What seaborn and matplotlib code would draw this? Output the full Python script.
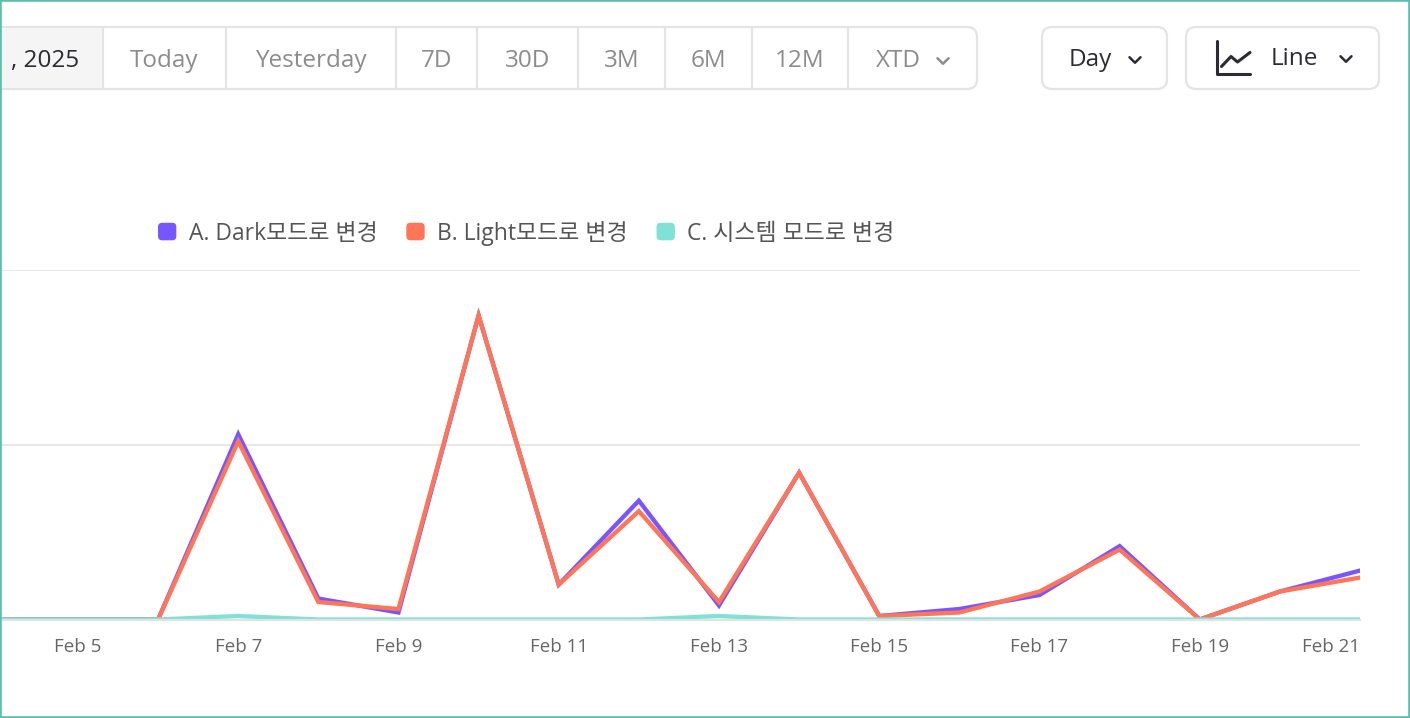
import numpy as np
import pandas as pd
import matplotlib
matplotlib.use('Agg')
import matplotlib.pyplot as plt
import matplotlib.dates as mdates
from matplotlib.patches import FancyBboxPatch, Rectangle, Patch
from matplotlib.legend_handler import HandlerPatch
import seaborn as sns

# ---------------------------------------------------------------
# Data (daily counts, Feb 4 - Feb 21)
# ---------------------------------------------------------------
DATES = pd.date_range('2025-02-04', '2025-02-21', freq='D')
SERIES = ['A. Dark모드로 변경', 'B. Light모드로 변경', 'C. 시스템 모드로 변경']
DARK = [0, 0, 0, 53, 6, 2, 87, 10, 34, 4, 42, 1, 3, 7, 21, 0, 8, 14]
LIGHT = [0, 0, 0, 51, 5, 3, 87, 10, 31, 5, 42, 1, 2, 8, 20, 0, 8, 12]
SYSTEM = [0, 0, 0, 1, 0, 0, 0, 0, 0, 1, 0, 0, 0, 0, 0, 0, 0, 0]
COLORS = ['#7856ff', '#ff7557', '#80e1d9']
TICK_DATES = pd.date_range('2025-02-05', '2025-02-21', freq='2D')
TICK_LABELS = [f"Feb {d.day}" for d in TICK_DATES]
Y_GRID = [0, 50, 100]

# toolbar
RANGE_LABELS = [', 2025', 'Today', 'Yesterday', '7D', '30D', '3M', '6M', '12M', 'XTD']
RANGE_EDGES = [-40, 103, 226, 396, 477, 578, 665, 752, 848, 977]

W, H = 1410, 718
FONT = ['Open Sans', 'Noto Sans CJK KR', 'DejaVu Sans']

df = pd.DataFrame({
    'date': np.tile(DATES, 3),
    'value': DARK + LIGHT + SYSTEM,
    'series': np.repeat(SERIES, len(DATES)),
})

sns.set_theme(style='white')
plt.rcParams['font.family'] = FONT

fig = plt.figure(figsize=(W / 100, H / 100), dpi=100, facecolor='white')

# overlay in pixel coordinates for the UI chrome
ui = fig.add_axes([0, 0, 1, 1], zorder=-1)
ui.set_xlim(0, W)
ui.set_ylim(H, 0)
ui.axis('off')

line_c = '#e4e4e4'
grey_txt = '#8c8c8c'
dark_txt = '#2b2b33'
ui_size = 17.5
txt_y = 61

# date-range button group
ui.add_patch(FancyBboxPatch((RANGE_EDGES[0], 27), RANGE_EDGES[-1] - RANGE_EDGES[0], 62,
                            boxstyle='round,pad=0,rounding_size=10',
                            fc='white', ec=line_c, lw=1.6))
ui.add_patch(Rectangle((0, 28), RANGE_EDGES[1], 60, fc='#f5f5f5', ec='none'))
for x in RANGE_EDGES[1:-1]:
    ui.plot([x, x], [28, 88], color=line_c, lw=1.6)
for i, lab in enumerate(RANGE_LABELS):
    if i == 0:
        ui.text(79, txt_y, lab, ha='right', va='center', fontsize=ui_size, color=dark_txt)
    else:
        cx = (RANGE_EDGES[i] + RANGE_EDGES[i + 1]) / 2
        if lab == 'XTD':
            cx -= 14
        ui.text(cx, txt_y, lab, ha='center', va='center', fontsize=ui_size, color=grey_txt)


def chevron(x, y, color, size=5.5):
    ui.plot([x - size, x, x + size], [y - size / 2, y + size / 2, y - size / 2],
            color=color, lw=1.8, solid_capstyle='round', solid_joinstyle='round')


chevron(943, 61, grey_txt)

# Day button
ui.add_patch(FancyBboxPatch((1042, 27), 125, 62, boxstyle='round,pad=0,rounding_size=10',
                            fc='white', ec=line_c, lw=1.6))
ui.text(1090, txt_y - 1, 'Day', ha='center', va='center', fontsize=ui_size, color=dark_txt)
chevron(1135, 60, dark_txt)

# Line button
ui.add_patch(FancyBboxPatch((1186, 27), 193, 62, boxstyle='round,pad=0,rounding_size=10',
                            fc='white', ec=line_c, lw=1.6))
ui.plot([1216.5, 1216.5, 1250], [41, 74, 74], color=dark_txt, lw=2.2,
        solid_joinstyle='round', solid_capstyle='round')
ui.plot([1221.5, 1231, 1237.5, 1250], [66.5, 56.5, 62, 52.5], color=dark_txt, lw=2.2,
        solid_joinstyle='round', solid_capstyle='round')
ui.text(1271, txt_y - 2, 'Line', ha='left', va='center', fontsize=ui_size, color=dark_txt)
chevron(1346, 59, dark_txt)

# ---------------------------------------------------------------
# Line chart
# ---------------------------------------------------------------
base_y, top_y, right_x = 619.5, 270, 1360
ax = fig.add_axes([0, (H - base_y) / H, right_x / W, (base_y - top_y) / H])
ax.set_facecolor('none')

sns.lineplot(data=df, x='date', y='value', hue='series', hue_order=SERIES,
             palette=COLORS, linewidth=3.1, ax=ax, legend=False)
for ln in ax.lines:
    ln.set_solid_joinstyle('miter')

x0 = mdates.date2num(DATES[0]) + 0.027
ax.set_xlim(x0, mdates.date2num(DATES[-1]))
ax.set_ylim(Y_GRID[0], Y_GRID[-1])
ax.set_yticks(Y_GRID)
ax.set_yticklabels([])
ax.yaxis.grid(True, color='#e6e6e6', lw=1.3)
ax.set_axisbelow(True)
ax.tick_params(axis='y', length=0)

ax.set_xticks(TICK_DATES)
ax.set_xticklabels(TICK_LABELS)
ax.tick_params(axis='x', length=7.5, width=1.3, color='#e2e2e2', pad=6,
               labelsize=13.5, labelcolor='#666666')
ax.get_xticklabels()[-1].set_ha('right')
ax.set_xlabel('')
ax.set_ylabel('')
for side in ['top', 'left', 'right']:
    ax.spines[side].set_visible(False)
ax.spines['bottom'].set_color('#e2e2e2')
ax.spines['bottom'].set_linewidth(1.5)


# legend with rounded square swatches
class RoundSwatch(HandlerPatch):
    def create_artists(self, legend, orig_handle, xdescent, ydescent, width, height,
                       fontsize, trans):
        p = FancyBboxPatch((-xdescent, -ydescent), width, height,
                           boxstyle='round,pad=0,rounding_size=3',
                           fc=orig_handle.get_facecolor(), ec='none', transform=trans)
        return [p]


handles = [Patch(facecolor=c, label=s) for c, s in zip(COLORS, SERIES)]
leg = fig.legend(handles=handles, loc='center left', ncol=3,
                 bbox_to_anchor=(158 / W, 1 - 233 / H), frameon=False,
                 borderpad=0, borderaxespad=0, handlelength=0.8, handleheight=0.8,
                 handletextpad=0.55, columnspacing=1.25,
                 prop={'size': 16.5, 'family': FONT, 'weight': 'medium'},
                 handler_map={Patch: RoundSwatch()})
for t in leg.get_texts():
    t.set_color('#555555')

# teal frame of the screenshot
fig.add_artist(Rectangle((0, 0), 1, 1, transform=fig.transFigure, fill=False,
                         ec='#5bbfae', lw=2.6, zorder=20))

fig.savefig('out.png', dpi=100, facecolor='white')
